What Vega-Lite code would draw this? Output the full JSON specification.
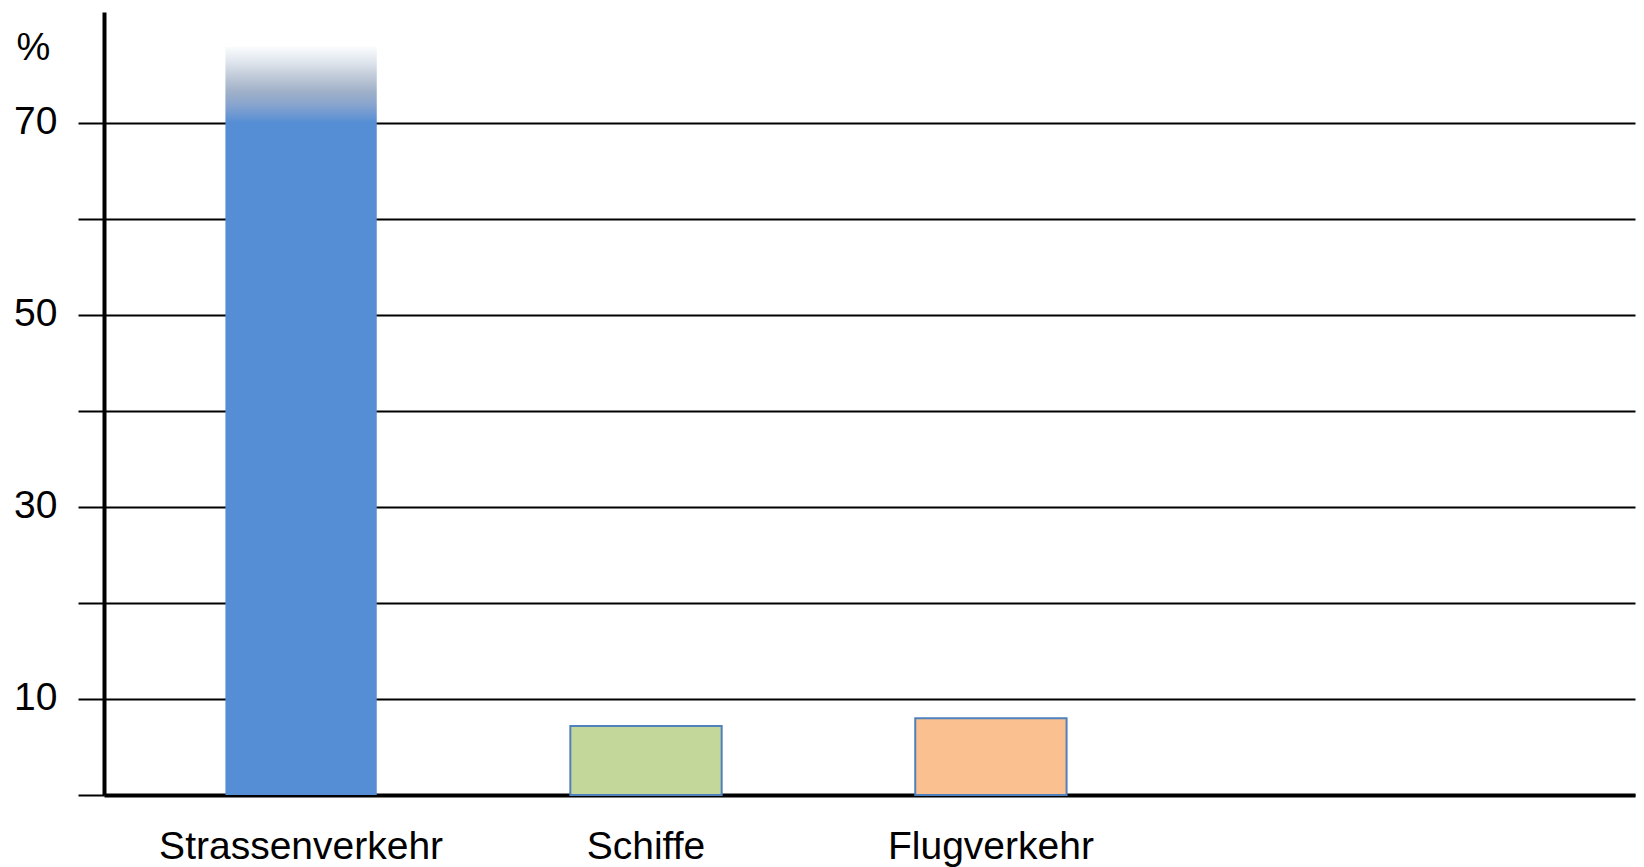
{
  "$schema": "https://vega.github.io/schema/vega-lite/v6.json",
  "width": 1531,
  "height": 783,
  "autosize": {"type": "none"},
  "padding": {"left": 104, "top": 12, "right": 9, "bottom": 72},
  "background": "white",
  "config": {
    "view": {"stroke": null},
    "font": "Liberation Sans"
  },
  "data": {
    "values": [
      {"verkehr": "Strassenverkehr", "anteil": 78},
      {"verkehr": "Schiffe", "anteil": 7.2},
      {"verkehr": "Flugverkehr", "anteil": 8.0}
    ]
  },
  "encoding": {
    "x": {
      "field": "verkehr",
      "type": "nominal",
      "sort": null,
      "scale": {
        "domain": ["Strassenverkehr", "Schiffe", "Flugverkehr"],
        "paddingInner": 0.5612,
        "paddingOuter": 1.0657,
        "align": 0.176
      },
      "axis": {
        "title": null,
        "labelAngle": 0,
        "labelLimit": 0,
        "ticks": false,
        "tickSize": 0,
        "grid": false,
        "domainColor": "black",
        "domainWidth": 4,
        "labelFont": "Liberation Sans",
        "labelFontSize": 39,
        "labelColor": "black",
        "labelPadding": 32
      }
    },
    "y": {
      "field": "anteil",
      "type": "quantitative",
      "scale": {"domain": [0, 81.6], "nice": false},
      "axis": {
        "values": [0, 10, 20, 30, 40, 50, 60, 70],
        "labelExpr": "datum.value % 20 == 10 ? datum.label : ''",
        "grid": true,
        "gridColor": "black",
        "gridWidth": 2,
        "gridOpacity": 1,
        "domainColor": "black",
        "domainWidth": 4,
        "tickColor": "black",
        "tickWidth": 2,
        "tickSize": 26,
        "labelFont": "Liberation Sans",
        "labelFontSize": 39,
        "labelColor": "black",
        "labelPadding": 21,
        "labelBaseline": "alphabetic",
        "labelOffset": 10,
        "title": "%",
        "titleAngle": 0,
        "titleAlign": "left",
        "titleBaseline": "alphabetic",
        "titleX": -88,
        "titleY": 47,
        "titleFont": "Liberation Sans",
        "titleFontSize": 38,
        "titleFontWeight": "normal",
        "titleColor": "black"
      }
    }
  },
  "layer": [
    {
      "transform": [{"filter": "datum.verkehr === 'Strassenverkehr'"}],
      "mark": {
        "type": "bar",
        "color": {
          "gradient": "linear",
          "x1": 0, "y1": 0, "x2": 0, "y2": 1,
          "stops": [
            {"offset": 0, "color": "#fbfcfd"},
            {"offset": 0.02, "color": "#e0e6ee"},
            {"offset": 0.04, "color": "#c0cad8"},
            {"offset": 0.06, "color": "#a0b1c9"},
            {"offset": 0.08, "color": "#84a2cf"},
            {"offset": 0.102, "color": "#558ED5"},
            {"offset": 1, "color": "#558ED5"}
          ]
        }
      }
    },
    {
      "transform": [{"filter": "datum.verkehr !== 'Strassenverkehr'"}],
      "mark": {"type": "bar", "stroke": "#4F81BD", "strokeWidth": 2},
      "encoding": {
        "fill": {
          "field": "verkehr",
          "type": "nominal",
          "scale": {"domain": ["Schiffe", "Flugverkehr"], "range": ["#C4D79B", "#FAC090"]},
          "legend": null
        }
      }
    }
  ]
}
